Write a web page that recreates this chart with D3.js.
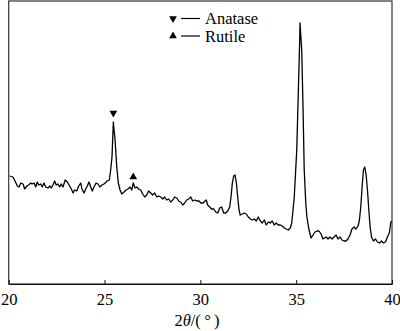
<!doctype html>
<html>
<head>
<meta charset="utf-8"/>
<title>XRD</title>
<script src="https://d3js.org/d3.v7.min.js"></script>
<style>
  body { margin: 0; background: #fff; }
  text { font-family: "Liberation Serif", "Times New Roman", serif; fill: #000; }
</style>
</head>
<body>
<script>
// 2theta (deg) and intensity (arbitrary units)
var twoTheta = [20.05,20.22,20.33,20.45,20.54,20.63,20.75,20.83,20.95,21.04,21.15,21.22,21.32,21.41,21.49,21.57,21.67,21.75,21.84,21.93,
  22.05,22.15,22.22,22.31,22.40,22.48,22.57,22.66,22.74,22.83,22.95,23.06,23.15,23.27,23.36,23.44,23.55,23.65,23.76,23.82,
  23.93,24.02,24.10,24.19,24.28,24.36,24.45,24.56,24.66,24.76,24.87,24.97,25.09,25.13,25.25,25.32,25.39,25.46,25.55,25.64,
  25.72,25.81,25.90,26.02,26.12,26.22,26.33,26.42,26.50,26.59,26.68,26.78,26.89,26.99,27.10,27.20,27.30,27.41,27.51,27.62,
  27.72,27.83,27.93,28.04,28.14,28.24,28.35,28.45,28.56,28.66,28.77,28.87,28.97,29.08,29.18,29.29,29.39,29.50,29.60,29.71,
  29.81,29.93,30.03,30.14,30.24,30.31,30.38,30.49,30.59,30.70,30.80,30.91,31.01,31.11,31.22,31.32,31.43,31.53,31.60,31.67,
  31.74,31.81,31.88,31.95,32.02,32.08,32.19,32.29,32.40,32.50,32.61,32.71,32.82,32.92,33.02,33.13,33.23,33.34,33.44,33.55,
  33.65,33.75,33.86,33.96,34.07,34.17,34.28,34.38,34.48,34.59,34.69,34.77,34.90,35.03,35.11,35.18,35.20,35.29,35.36,35.42,
  35.50,35.56,35.67,35.78,35.88,35.98,36.09,36.19,36.30,36.40,36.56,36.66,36.76,36.87,36.97,37.08,37.18,37.29,37.39,37.50,
  37.60,37.70,37.81,37.91,38.02,38.12,38.23,38.30,38.37,38.44,38.51,38.58,38.65,38.72,38.79,38.86,38.93,39.03,39.14,39.24,
  39.35,39.45,39.55,39.66,39.76,39.86,39.93,39.97];
var intensity = [108,107,103,98,97,101,100,95,98,99,101,100,101,97,102,99,100,97,101,97,
  96,98,96,99,103,99,100,97,100,97,104,102,99,95,91,94,93,98,101,95,
  91,95,98,102,97,93,97,101,100,97,99,100,102,103,104,114,127,162,144,117,
  101,94,90,92,94,95,97,94,101,96,97,95,94,90,87,89,93,91,89,91,
  87,88,87,85,87,84,85,82,84,87,86,83,82,79,81,84,85,87,83,84,
  83,83,81,81,83,84,79,77,75,75,72,71,76,77,71,71,73,77,87,101,
  108,109,101,87,74,69,70,71,70,67,65,64,65,63,67,63,61,64,59,62,
  61,63,59,61,59,59,58,56,55,54,56,61,87,134,191,241,261,234,174,114,
  81,67,54,46,49,52,53,53,50,45,47,45,47,45,47,49,45,47,44,43,
  43,45,49,55,57,55,58,64,77,97,114,117,109,94,74,57,47,43,45,42,
  41,43,41,42,47,51,61,63];

var xTicks = [20, 25, 30, 35, 40];

var legendNames = ["Anatase", "Rutile"];
var legendFlip = [true, false];

// phase markers over the peaks
var markerTheta = [25.46, 26.50];
var markerIntensity = [171, 107];
var markerFlip = [true, false];

var W = 400, H = 331;
var plotLeft = 8.7, plotRight = 392, plotTop = 1, plotBottom = 284;

var svg = d3.select("body").append("svg")
  .attr("width", W).attr("height", H);

var x = d3.scaleLinear().domain([20, 40]).range([plotLeft, plotRight]);
var y = d3.scaleLinear().domain([0, 283]).range([plotBottom, plotTop]);

// frame
svg.append("rect")
  .attr("x", plotLeft).attr("y", plotTop)
  .attr("width", plotRight - plotLeft).attr("height", plotBottom - plotTop)
  .attr("fill", "none").attr("stroke", "#333").attr("stroke-width", 1.2);

// bottom axis, ticks pointing inward
var xAxis = d3.axisBottom(x).tickValues(xTicks).tickSizeInner(-4).tickSizeOuter(0).tickPadding(9);
var gx = svg.append("g").attr("transform", "translate(0," + plotBottom + ")").call(xAxis);
gx.attr("font-family", null).attr("font-size", null);
gx.select(".domain").attr("stroke", "#111").attr("stroke-width", 1.2);
gx.selectAll(".tick line").attr("stroke", "#111");
gx.selectAll(".tick text")
  .style("font-family", "Liberation Serif")
  .style("font-size", "16.5px")
  .attr("dy", "0.71em");

// axis title
var title = svg.append("text")
  .attr("x", 197).attr("y", 326)
  .attr("text-anchor", "middle")
  .style("font-size", "16.5px");
title.append("tspan").text("2");
title.append("tspan").style("font-style", "italic").text("\u03b8");
title.append("tspan").text("/(\u2009\u00b0\u2009)");

// pattern
var line = d3.line()
  .x(function(d, i) { return x(twoTheta[i]); })
  .y(function(d, i) { return y(intensity[i]); });

svg.append("path")
  .datum(intensity)
  .attr("d", line)
  .attr("fill", "none")
  .attr("stroke", "#000")
  .attr("stroke-width", 1.3)
  .attr("stroke-linejoin", "round");

// markers
var sym = d3.symbol().type(d3.symbolTriangle).size(26);
svg.selectAll(".mk")
  .data(markerTheta)
  .enter().append("path")
  .attr("class", "mk")
  .attr("d", sym)
  .attr("fill", "#000")
  .attr("transform", function(d, i) {
    return "translate(" + x(d) + "," + y(markerIntensity[i]) + ")" + (markerFlip[i] ? " rotate(180)" : "");
  });

// legend
var lg = svg.selectAll(".lg")
  .data(legendNames)
  .enter().append("g")
  .attr("class", "lg")
  .attr("transform", function(d, i) { return "translate(0," + (18.5 + i * 17.5) + ")"; });

lg.append("path")
  .attr("d", sym)
  .attr("fill", "#000")
  .attr("transform", function(d, i) { return "translate(173,0)" + (legendFlip[i] ? " rotate(180)" : ""); });

lg.append("line")
  .attr("x1", 181).attr("x2", 200)
  .attr("y1", 0).attr("y2", 0)
  .attr("stroke", "#000").attr("stroke-width", 1.2);

lg.append("text")
  .attr("x", 205).attr("y", 5.5)
  .style("font-size", "16.5px")
  .text(function(d) { return d; });
</script>
</body>
</html>
